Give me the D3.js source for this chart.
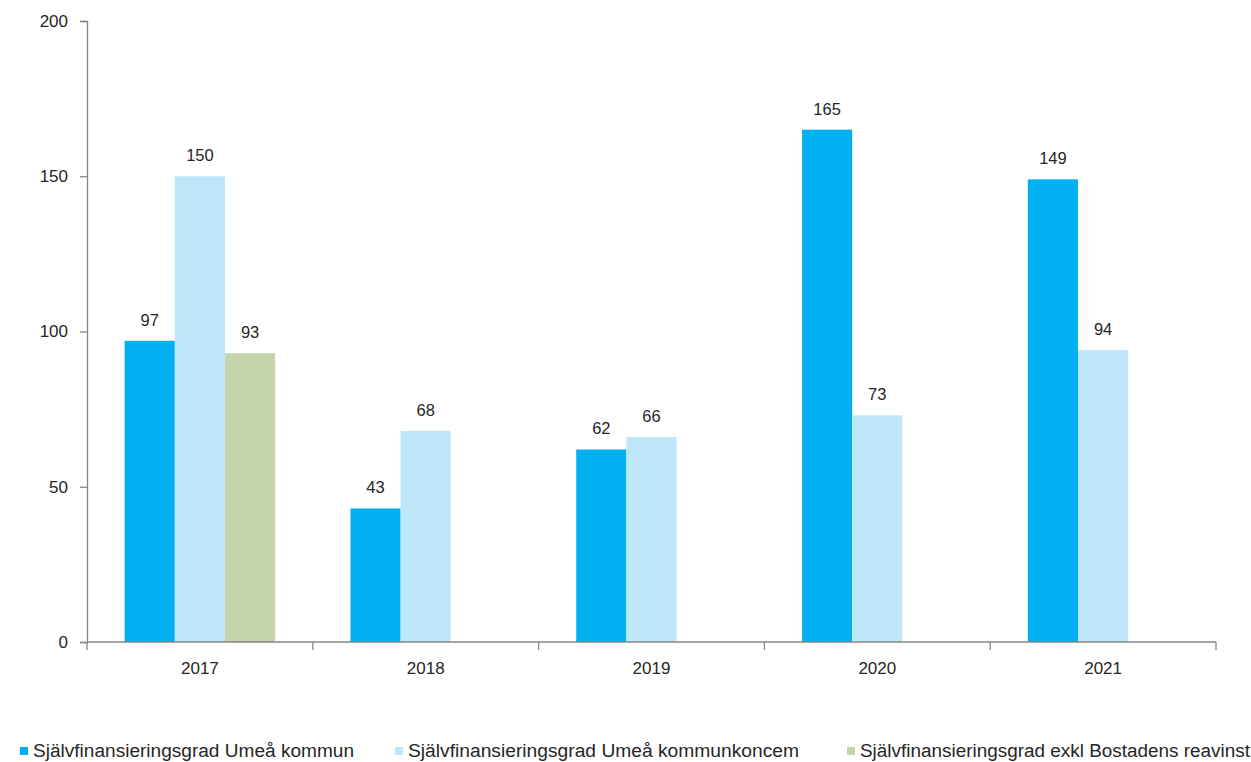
<!DOCTYPE html>
<html>
<head>
<meta charset="utf-8">
<script src="https://cdn.jsdelivr.net/npm/d3@7"></script>
<style>
  body { margin: 0; background: #fff; }
  svg { display: block; font-family: "Liberation Sans", Arial, sans-serif; }
</style>
</head>
<body>
<svg id="chart" width="1251" height="762"></svg>
<script>
// data
const years = ["2017", "2018", "2019", "2020", "2021"];
const seriesNames = [
  "Självfinansieringsgrad Umeå kommun",
  "Självfinansieringsgrad Umeå kommunkoncem",
  "Självfinansieringsgrad exkl Bostadens reavinst"
];
const kommun = [97, 43, 62, 165, 149];
const koncem = [150, 68, 66, 73, 94];
const exklReavinst = [93, null, null, null, null];
const yTicks = [0, 50, 100, 150, 200];

const colors = ["#00b0f0", "#bee5f8", "#c4d6a9"];
const allSeries = [kommun, koncem, exklReavinst];

const plotLeft = 87, plotRight = 1216, plotTop = 21, plotBottom = 642;

const svg = d3.select("#chart");

const x0 = d3.scaleBand().domain(years).range([plotLeft, plotRight]).paddingInner(0).paddingOuter(0);
const x1 = d3.scaleBand().domain(d3.range(3)).range([0, x0.bandwidth()])
    .paddingInner(0).paddingOuter(0.75);
const y = d3.scaleLinear().domain([0, 200]).range([plotBottom, plotTop]);

// bars
years.forEach((yr, i) => {
    const g = svg.append("g").attr("transform", `translate(${x0(yr)},0)`);
    allSeries.forEach((s, j) => {
        const v = s[i];
        if (v == null) return;
        g.append("rect")
            .attr("x", x1(j))
            .attr("y", y(v))
            .attr("width", x1.bandwidth())
            .attr("height", y(0) - y(v))
            .attr("fill", colors[j]);
        g.append("text")
            .attr("x", x1(j) + x1.bandwidth() / 2)
            .attr("y", y(v) - 15)
            .attr("text-anchor", "middle")
            .attr("font-size", "16.5px")
            .attr("fill", "#262626")
            .text(v);
    });
});

// y axis
const yAxis = d3.axisLeft(y).tickValues(yTicks).tickSize(7).tickPadding(12).tickSizeOuter(7);
const gy = svg.append("g").attr("transform", `translate(${plotLeft},0)`).call(yAxis);
gy.select(".domain").attr("stroke", "#868686").attr("stroke-width", 1.3);
gy.selectAll(".tick line").attr("stroke", "#868686").attr("stroke-width", 1.3);
gy.selectAll(".tick text").attr("font-size", "17px").attr("fill", "#262626")
    .attr("font-family", "Liberation Sans, Arial, sans-serif");

// x axis with ticks between categories
const gx = svg.append("g").attr("transform", `translate(0,${plotBottom})`);
gx.append("line").attr("x1", plotLeft).attr("x2", plotRight).attr("y1", 0).attr("y2", 0)
    .attr("stroke", "#868686").attr("stroke-width", 1.3);
const edges = years.map(d => x0(d)).concat([plotRight]);
gx.selectAll(".sep").data(edges).enter().append("line")
    .attr("x1", d => d).attr("x2", d => d).attr("y1", 0).attr("y2", 8)
    .attr("stroke", "#868686").attr("stroke-width", 1.3);
gx.selectAll(".lbl").data(years).enter().append("text")
    .attr("x", d => x0(d) + x0.bandwidth() / 2)
    .attr("y", 32)
    .attr("text-anchor", "middle")
    .attr("font-size", "17px")
    .attr("fill", "#262626")
    .text(d => d);

// legend
const legendX = [20, 395, 847];
const legendLen = [321, 391, 390];
const legend = svg.append("g");
seriesNames.forEach((name, j) => {
    legend.append("rect")
        .attr("x", legendX[j]).attr("y", 747)
        .attr("width", 8).attr("height", 8)
        .attr("fill", colors[j]);
    legend.append("text")
        .attr("x", legendX[j] + 13)
        .attr("y", 757)
        .attr("font-size", "18px")
        .attr("fill", "#262626")
        .attr("textLength", legendLen[j])
        .attr("lengthAdjust", "spacingAndGlyphs")
        .text(name);
});
</script>
</body>
</html>
